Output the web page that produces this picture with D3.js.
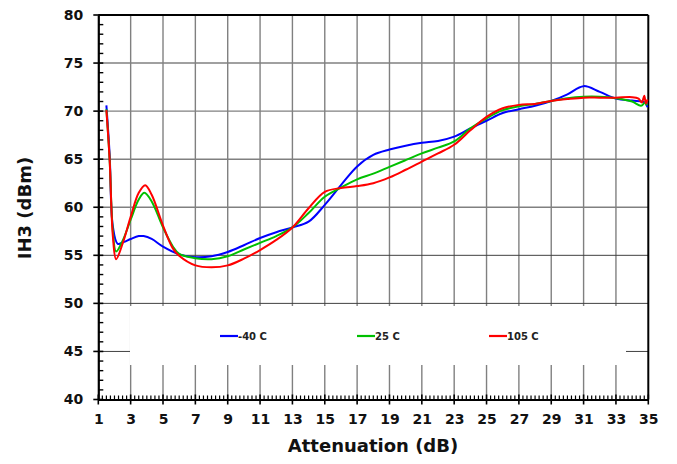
<!DOCTYPE html>
<html><head><meta charset="utf-8">
<script src="https://cdn.jsdelivr.net/npm/d3@7"></script>
<style>body{margin:0;background:#fff}svg{display:block}</style>
</head><body>
<svg id="c" width="677" height="464"></svg>
<script>
const seriesNames = ["-40 C", "25 C", "105 C"];
const seriesColors = ["#0000ff", "#00c000", "#ff0000"];
const xBlue = [1.5,1.7,1.9,2.2,2.6,3,3.5,3.8,4.3,5,6,7,8,9,10,11,12,13,14,15,16,17,18,19,20,21,22,23,24,25,26,27,28,29,30,31,32,33,34,34.6,34.8,34.95];
const yBlue = [70.6,65.5,58.0,56.2,56.4,56.7,57.0,57.0,56.7,55.9,55.1,54.8,54.9,55.35,56.05,56.8,57.4,57.9,58.5,60.25,62.3,64.25,65.45,66.0,66.4,66.7,66.9,67.35,68.2,69.0,69.8,70.2,70.55,71.05,71.75,72.6,72.0,71.3,71.1,71.0,70.9,70.4];
const xGreen = [1.5,1.7,1.9,2.1,2.5,3,3.5,3.85,4.3,5,5.6,6,7,8,9,10,11,12,13,14,15,16,17,18,19,20,21,22,23,24,25,26,27,28,29,30,31,32,33,34,34.55,34.8,34.9];
const yGreen = [70.2,65.0,57.5,55.4,56.5,58.7,60.8,61.5,60.6,57.9,55.95,55.15,54.7,54.6,54.9,55.6,56.3,57.0,57.9,59.4,61.1,62.05,62.9,63.5,64.2,64.9,65.6,66.2,66.85,68.2,69.25,70.1,70.5,70.75,71.05,71.35,71.5,71.5,71.35,71.0,70.55,70.9,70.6];
const xRed = [1.5,1.7,1.9,2.1,2.5,3,3.5,3.9,4.3,5,5.6,6,7,8,9,10,11,12,13,14,15,16,17,18,19,20,21,22,23,24,25,26,27,28,29,30,31,32,33,34,34.4,34.6,34.75,34.85,34.95];
const yRed = [70.1,65.0,57.0,54.6,56.2,59.0,61.5,62.3,61.3,58.1,55.75,54.95,53.95,53.75,53.95,54.65,55.55,56.6,57.9,59.9,61.6,62.0,62.2,62.5,63.1,63.9,64.75,65.6,66.5,68.0,69.4,70.3,70.65,70.75,71.05,71.25,71.4,71.4,71.4,71.45,71.3,70.9,71.6,70.8,71.2];
const xTicks = [1,3,5,7,9,11,13,15,17,19,21,23,25,27,29,31,33,35];
const yTicks = [40,45,50,55,60,65,70,75,80];

const svg = d3.select("#c");
const x = d3.scaleLinear().domain([1,35]).range([98.3,648.3]);
const y = d3.scaleLinear().domain([40,80]).range([399.5,15]);
const font = "'DejaVu Sans', Verdana, sans-serif";

// grid
const g = svg.append("g");
g.selectAll("line.v").data(xTicks.slice(1,-1)).join("line")
  .attr("x1",d=>x(d)).attr("x2",d=>x(d)).attr("y1",y(80)).attr("y2",y(40))
  .attr("stroke","#808080").attr("stroke-width",1.4);
g.selectAll("line.h").data(yTicks.slice(1,-1)).join("line")
  .attr("x1",x(1)).attr("x2",x(35)).attr("y1",d=>y(d)).attr("y2",d=>y(d))
  .attr("stroke",d=>d<=55?"#404040":"#808080").attr("stroke-width",d=>d<=55?1:1.4);

// legend box (white, hides grid)
svg.append("rect").attr("x",130).attr("y",306).attr("width",496).attr("height",59).attr("fill","#fff");

// top/right border
svg.append("line").attr("x1",x(1)).attr("x2",x(35)).attr("y1",y(80)).attr("y2",y(80)).attr("stroke","#000").attr("stroke-width",2);
svg.append("line").attr("x1",x(35)).attr("x2",x(35)).attr("y1",y(80)).attr("y2",y(40)).attr("stroke","#000").attr("stroke-width",2);

// axes
const xAxis = d3.axisBottom(x).tickValues(xTicks).tickSize(0).tickPadding(14).tickFormat(d3.format("d"));
const yAxis = d3.axisLeft(y).tickValues(yTicks).tickSize(0).tickPadding(14).tickFormat(d3.format("d"));
const gx = svg.append("g").attr("transform",`translate(0,${y(40)})`).call(xAxis);
const gy = svg.append("g").attr("transform",`translate(${x(1)},0)`).call(yAxis);
[gx,gy].forEach(a=>{
  a.select(".domain").attr("stroke","#000").attr("stroke-width",2.2);
  a.selectAll("text").attr("font-family",font).attr("font-weight","bold").attr("font-size",14).attr("fill","#111");
});
gx.selectAll("text").attr("dy","0.71em").attr("y",15);
gy.selectAll("text").attr("x",-15);
// minor ticks
const xMinor = d3.range(1,35.001,0.25).filter(v=>Math.abs(v-Math.round(v))>0.01 || Math.round(v)%2===0);
svg.append("g").selectAll("line").data(xMinor).join("line")
  .attr("x1",d=>x(d)).attr("x2",d=>x(d)).attr("y1",y(40)).attr("y2",y(40)-4)
  .attr("stroke","#000").attr("stroke-width",1.2);
svg.append("g").selectAll("line").data(xTicks).join("line")
  .attr("x1",d=>x(d)).attr("x2",d=>x(d)).attr("y1",y(40)+5).attr("y2",y(40)-5)
  .attr("stroke","#000").attr("stroke-width",1.6);
const yMinor = d3.range(40,80.001,1).filter(v=>v%5!==0);
svg.append("g").selectAll("line").data(yMinor).join("line")
  .attr("x1",x(1)).attr("x2",x(1)+5).attr("y1",d=>y(d)).attr("y2",d=>y(d))
  .attr("stroke","#000").attr("stroke-width",1.4);
svg.append("g").selectAll("line").data(yTicks).join("line")
  .attr("x1",x(1)-5).attr("x2",x(1)+5).attr("y1",d=>y(d)).attr("y2",d=>y(d))
  .attr("stroke","#000").attr("stroke-width",1.6);

// lines
const line = d3.line().x(d=>x(d[0])).y(d=>y(d[1])).curve(d3.curveCatmullRom.alpha(0.5));
const series = [[xBlue,yBlue],[xGreen,yGreen],[xRed,yRed]];
series.forEach((s,i)=>{
  const pts = s[0].map((v,j)=>[v,s[1][j]]);
  svg.append("path").datum(pts).attr("d",line).attr("fill","none")
    .attr("stroke",seriesColors[i]).attr("stroke-width",2).attr("stroke-linejoin","round");
});

// legend
const legX = [220, 357, 489];
seriesNames.forEach((n,i)=>{
  svg.append("line").attr("x1",legX[i]).attr("x2",legX[i]+18).attr("y1",336).attr("y2",336)
    .attr("stroke",seriesColors[i]).attr("stroke-width",2.2);
  svg.append("text").attr("x",legX[i]+18).attr("y",340).text(n)
    .attr("font-family",font).attr("font-weight","bold").attr("font-size",10).attr("fill","#222");
});

// axis titles
svg.append("text").attr("x",373).attr("y",452).attr("text-anchor","middle").text("Attenuation (dB)")
  .attr("font-family",font).attr("font-weight","bold").attr("font-size",18).attr("fill","#111");
svg.append("text").attr("transform","translate(31,208) rotate(-90)").attr("text-anchor","middle").text("IH3 (dBm)")
  .attr("font-family",font).attr("font-weight","bold").attr("font-size",18).attr("fill","#111");
</script>
</body></html>
